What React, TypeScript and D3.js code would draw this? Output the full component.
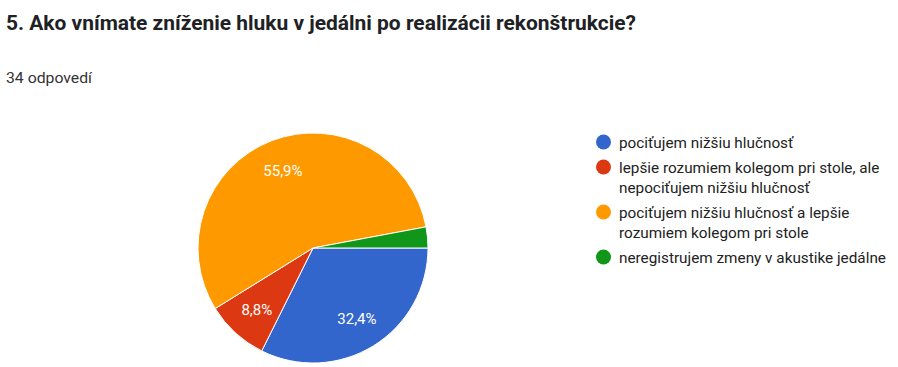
import React from "react";
import * as d3 from "d3";

const title = "5. Ako vnímate zníženie hluku v jedálni po realizácii rekonštrukcie?";
const subtitle = "34 odpovedí";
const categories = [
  ["pociťujem nižšiu hlučnosť"],
  ["lepšie rozumiem kolegom pri stole, ale", "nepociťujem nižšiu hlučnosť"],
  ["pociťujem nižšiu hlučnosť a lepšie", "rozumiem kolegom pri stole"],
  ["neregistrujem zmeny v akustike jedálne"],
];
const values = [11, 3, 19, 1];
const colors = ["#3366cc", "#dc3912", "#ff9900", "#109618"];

export default function App() {
  const W = 898, H = 367;
  const cx = 313, cy = 248, r = 115;
  const total = d3.sum(values);
  const pie = d3.pie<number>().sort(null).startAngle(Math.PI / 2).endAngle(Math.PI / 2 + 2 * Math.PI);
  const arcs = pie(values);
  const arc = d3.arc<d3.PieArcDatum<number>>().innerRadius(0).outerRadius(r);
  const labelArc = d3.arc<d3.PieArcDatum<number>>().innerRadius(r * 0.725).outerRadius(r * 0.725);
  const fmt = (v: number) => ((v / total) * 100).toFixed(1).replace(".", ",") + "%";

  let rowY = 142;
  const legendRows = categories.map((lines) => {
    const y = rowY;
    rowY += lines.length * 20 + 5;
    return y;
  });

  return (
    <svg width={W} height={H} style={{ position: "absolute", left: 0, top: 0, background: "#fff" }} fontFamily="Roboto, Arial, sans-serif">
      <text x={6} y={30} fontSize={19.5} fontWeight="bold" fill="#202124" textLength={630} lengthAdjust="spacingAndGlyphs">{title}</text>
      <text x={6} y={83} fontSize={14} fill="#333" textLength={86} lengthAdjust="spacingAndGlyphs">{subtitle}</text>
      <g transform={`translate(${cx},${cy})`}>
        {arcs.map((a, i) => (
          <path key={i} d={arc(a) || ""} fill={colors[i]} stroke="#fff" strokeWidth={1} />
        ))}
        {arcs.map((a, i) => {
          if (values[i] / total < 0.05) return null;
          const [lx, ly] = labelArc.centroid(a);
          return (
            <text key={i} x={lx} y={ly} dy="0.36em" textAnchor="middle" fontSize={15} fill="#fff">{fmt(values[i])}</text>
          );
        })}
      </g>
      {categories.map((lines, i) => (
        <g key={i}>
          <circle cx={603.5} cy={legendRows[i]} r={7.5} fill={colors[i]} />
          {lines.map((l, j) => (
            <text key={j} x={619} y={legendRows[i] + j * 20} dy="0.36em" fontSize={15.3} fill="#222">{l}</text>
          ))}
        </g>
      ))}
    </svg>
  );
}
